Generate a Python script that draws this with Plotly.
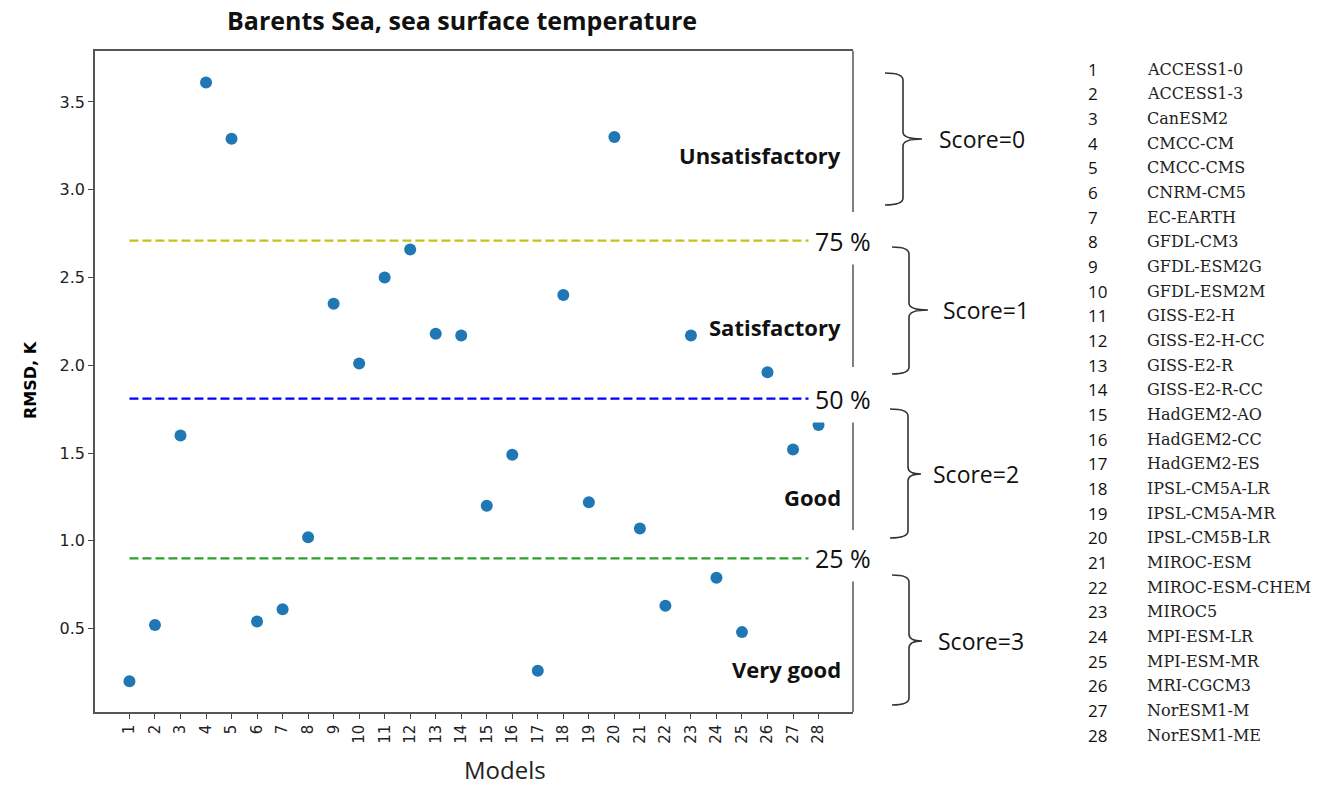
import plotly.graph_objects as go

# ---------------- data ----------------
model_ids = list(range(1, 29))
model_names = [
    "ACCESS1-0", "ACCESS1-3", "CanESM2", "CMCC-CM", "CMCC-CMS", "CNRM-CM5",
    "EC-EARTH", "GFDL-CM3", "GFDL-ESM2G", "GFDL-ESM2M", "GISS-E2-H",
    "GISS-E2-H-CC", "GISS-E2-R", "GISS-E2-R-CC", "HadGEM2-AO", "HadGEM2-CC",
    "HadGEM2-ES", "IPSL-CM5A-LR", "IPSL-CM5A-MR", "IPSL-CM5B-LR", "MIROC-ESM",
    "MIROC-ESM-CHEM", "MIROC5", "MPI-ESM-LR", "MPI-ESM-MR", "MRI-CGCM3",
    "NorESM1-M", "NorESM1-ME",
]
rmsd = [0.20, 0.52, 1.60, 3.61, 3.29, 0.54, 0.61, 1.02, 2.35, 2.01,
        2.50, 2.66, 2.18, 2.17, 1.20, 1.49, 0.26, 2.40, 1.22, 3.30,
        1.07, 0.63, 2.17, 0.79, 0.48, 1.96, 1.52, 1.66]
percentile_labels = ["75 %", "50 %", "25 %"]
percentile_values = [2.71, 1.81, 0.90]
percentile_colors = ["#c2c21c", "#0000ff", "#2ca02c"]
category_labels = ["Unsatisfactory", "Satisfactory", "Good", "Very good"]
category_y = [3.20, 2.22, 1.25, 0.27]
score_labels = ["Score=0", "Score=1", "Score=2", "Score=3"]

# ---------------- layout geometry (pixels) ----------------
W, H = 1332, 787
PL, PR, PT, PB = 95, 853, 51, 712


def px(x):
    return (x - PL) / (PR - PL)


def py(y):
    return (PB - y) / (PB - PT)


fig = go.Figure()

# threshold lines
for lab, val, col in zip(percentile_labels, percentile_values, percentile_colors):
    fig.add_trace(go.Scatter(
        x=[model_ids[0], model_ids[-1] + 1], y=[val, val], mode="lines",
        line=dict(color=col, width=2.2, dash="9px,4px"),
        hoverinfo="skip", showlegend=False))

# points
fig.add_trace(go.Scatter(
    x=model_ids, y=rmsd, mode="markers",
    marker=dict(color="#1f77b4", size=12, line=dict(width=0)),
    showlegend=False))

annotations = []
shapes = []


def ann(**kw):
    kw.setdefault("showarrow", False)
    kw.setdefault("yanchor", "middle")
    kw.setdefault("xanchor", "center")
    annotations.append(kw)


# title, axis titles
ann(text="<b>Barents Sea, sea surface temperature</b>", x=px(462), y=py(20),
    xref="paper", yref="paper", font=dict(family="Open Sans", size=25, color="#111"))
ann(text="Models", x=px(505), y=py(769), xref="paper", yref="paper",
    font=dict(family="Open Sans", size=24, color="#222"))
ann(text="<b>RMSD, K</b>", x=px(30), y=py(380), xref="paper", yref="paper", textangle=-90,
    font=dict(family="DejaVu Sans", size=16, color="#000"))

# category labels inside plot (right aligned)
for lab, yv in zip(category_labels, category_y):
    ann(text="<b>%s</b>" % lab, x=px(843), y=yv, xref="paper", yref="y", xanchor="right",
        font=dict(family="Open Sans", size=22, color="#111"))

# percentile labels
for lab, val in zip(percentile_labels, percentile_values):
    ann(text=lab, x=px(843), y=val, xref="paper", yref="y", bgcolor="white", borderpad=6,
        font=dict(family="Open Sans", size=25, color="#111"))

# right spine segments (gaps around the percentage labels)
for y0, y1 in [(51, 212), (262, 367), (417, 530), (580, 712)]:
    shapes.append(dict(type="line", xref="paper", yref="paper", x0=1, x1=1,
                       y0=py(y0), y1=py(y1), line=dict(color="#555", width=1.5)))

# braces with score labels
braces = [  # top, bottom, left, spine, tip, mid, text_x
    (73, 205, 885, 903, 922, 139, 937),
    (247, 374, 892, 909, 928, 310, 941),
    (409, 538, 890, 908, 921, 474, 931),
    (575, 705, 892, 909, 922, 641, 936),
]
for (t, b, l, s, tip, m, tx), lab in zip(braces, score_labels):
    r = 7
    pts = [
        ("M", l, t), ("Q", s, t, s, t + r), ("L", s, m - r),
        ("Q", s, m, tip, m), ("Q", s, m, s, m + r), ("L", s, b - r),
        ("Q", s, b, l, b),
    ]
    path = ""
    for p in pts:
        cmd = p[0]
        coords = p[1:]
        pairs = []
        for i in range(0, len(coords), 2):
            pairs.append("%.5f,%.5f" % (px(coords[i]), py(coords[i + 1])))
        path += cmd + " " + " ".join(pairs) + " "
    shapes.append(dict(type="path", path=path.strip(), xref="paper", yref="paper",
                       line=dict(color="#333", width=1.6)))
    ann(text=lab, x=px(tx), y=py(m), xref="paper", yref="paper", xanchor="left",
        font=dict(family="Open Sans", size=23, color="#111"))

# model list on the right
row0, dy = 69, 24.67
for i, (mid, name) in enumerate(zip(model_ids, model_names)):
    yy = py(row0 + i * dy)
    ann(text=str(mid), x=px(1086), y=yy, xref="paper", yref="paper", xanchor="left",
        font=dict(family="Open Sans", size=17, color="#111"))
    ann(text=name, x=px(1145), y=yy, xref="paper", yref="paper", xanchor="left",
        font=dict(family="DejaVu Serif", size=16, color="#222"))

fig.update_layout(
    width=W, height=H,
    margin=dict(l=PL, r=W - PR, t=PT, b=H - PB),
    paper_bgcolor="white", plot_bgcolor="white",
    xaxis=dict(range=[-0.35, 29.35], tickmode="array", tickvals=model_ids,
               ticktext=[str(m) for m in model_ids], tickangle=-90,
               ticks="outside", ticklen=5, tickwidth=1.2, tickcolor="#444",
               showgrid=False, zeroline=False, showline=True, mirror=True,
               linecolor="#555", linewidth=1.5,
               tickfont=dict(family="DejaVu Sans", size=15, color="#222")),
    yaxis=dict(range=[0.025, 3.79], tickvals=[0.5, 1.0, 1.5, 2.0, 2.5, 3.0, 3.5],
               tickformat=".1f", ticks="outside", ticklen=5, tickwidth=1.2, tickcolor="#444",
               showgrid=False, zeroline=False, showline=True, mirror=False,
               linecolor="#555", linewidth=1.5,
               tickfont=dict(family="DejaVu Sans", size=16, color="#222")),
    annotations=annotations, shapes=shapes,
)

fig.write_html("out.html", config={"displayModeBar": False},
               post_script="document.body.style.margin='0px';document.body.style.overflow='hidden';")
